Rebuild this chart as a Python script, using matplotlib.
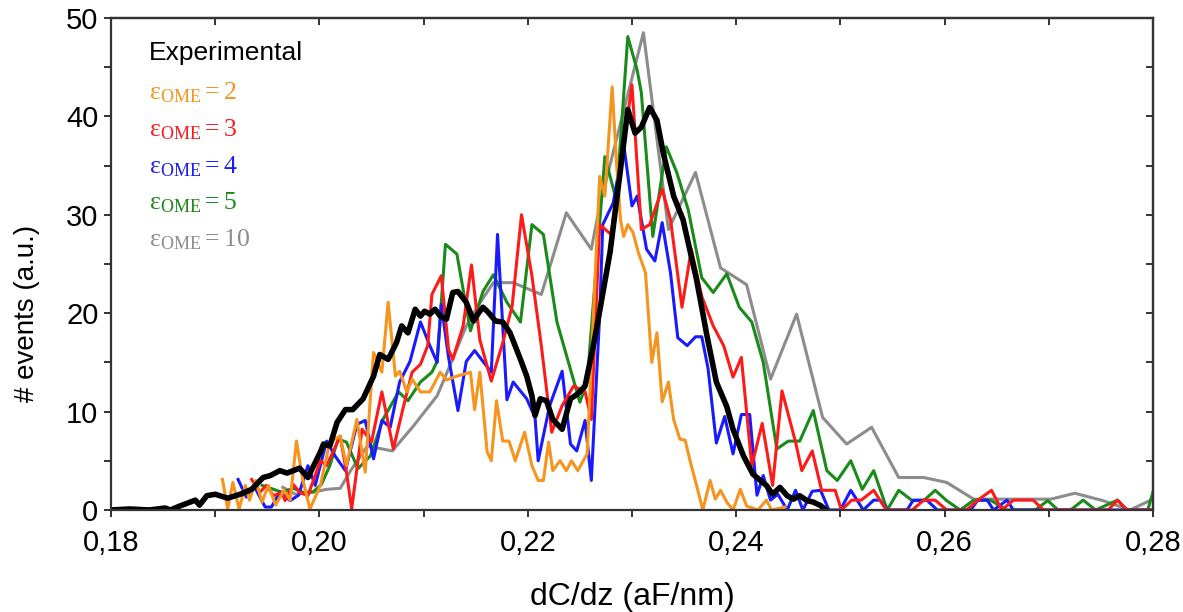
import matplotlib
matplotlib.use("Agg")
import matplotlib.pyplot as plt
from matplotlib.ticker import MultipleLocator, FuncFormatter

plt.rcParams['font.family'] = ['Liberation Sans', 'DejaVu Sans']
plt.rcParams['mathtext.fontset'] = 'custom'
plt.rcParams['mathtext.rm'] = 'Liberation Serif'
plt.rcParams['mathtext.it'] = 'Liberation Serif'

# Experimental histogram (black, thick)
exp_x = [0.1800, 0.1818, 0.1837, 0.1852, 0.1857, 0.1866, 0.1876, 0.1881, 0.1885, 0.1892,
         0.1900, 0.1912, 0.1924, 0.1935, 0.1946, 0.1953, 0.1962, 0.1969, 0.1981, 0.1989,
         0.2001, 0.2004, 0.2010, 0.2017, 0.2025, 0.2032, 0.2042, 0.2052, 0.2058, 0.2066,
         0.2074, 0.2079, 0.2085, 0.2092, 0.2097, 0.2101, 0.2106, 0.2111, 0.2116, 0.2122,
         0.2128, 0.2133, 0.2141, 0.2148, 0.2152, 0.2157, 0.2162, 0.2169, 0.2176, 0.2183,
         0.2193, 0.2199, 0.2204, 0.2207, 0.2212, 0.2218, 0.2224, 0.2233, 0.2241, 0.2248,
         0.2255, 0.2263, 0.2269, 0.2279, 0.2289, 0.2296, 0.2303, 0.2309, 0.2317, 0.2324,
         0.2330, 0.2340, 0.2349, 0.2362, 0.2372, 0.2381, 0.2391, 0.2397, 0.2407, 0.2416,
         0.2429, 0.2435, 0.2442, 0.2449, 0.2455, 0.2461, 0.2468, 0.2474, 0.2481, 0.2485]
exp_y = [0.0, 0.1, 0.0, 0.2, 0.0, 0.4, 0.8, 1.0, 0.5, 1.45,
         1.6, 1.2, 1.6, 2.1, 3.3, 3.5, 4.0, 3.75, 4.25, 3.3,
         5.9, 6.7, 6.5, 8.9, 10.2, 10.2, 11.3, 13.6, 15.8, 15.3,
         17.0, 18.7, 18.0, 20.4, 19.7, 20.2, 19.9, 20.4, 19.7, 19.4,
         22.1, 22.2, 21.1, 19.2, 19.9, 20.6, 20.1, 19.2, 19.1, 18.0,
         15.3, 13.6, 11.6, 9.6, 11.3, 11.1, 9.2, 8.2, 11.3, 11.8,
         12.6, 16.7, 20.2, 26.2, 34.6, 40.7, 38.3, 38.9, 40.9, 39.6,
         36.3, 31.9, 29.5, 23.4, 17.7, 13.0, 10.5, 8.2, 5.5, 3.65,
         2.5, 1.6, 2.3, 1.45, 1.1, 1.45, 0.95, 0.8, 0.45, 0.1]

# eps_OME = 2 (orange)
e2_x = [0.1907, 0.1912, 0.1917, 0.1923, 0.1929, 0.1933, 0.1939, 0.1945, 0.1951, 0.1958,
        0.1966, 0.1972, 0.1978, 0.1984, 0.1991, 0.2001, 0.2010, 0.2020, 0.2026, 0.2036,
        0.2044, 0.2052, 0.2060, 0.2066, 0.2073, 0.2077, 0.2084, 0.2089, 0.2097, 0.2106,
        0.2116, 0.2122, 0.2132, 0.2145, 0.2149, 0.2154, 0.2161, 0.2165, 0.2170, 0.2176,
        0.2182, 0.2188, 0.2197, 0.2204, 0.2210, 0.2215, 0.2220, 0.2224, 0.2231, 0.2237,
        0.2242, 0.2248, 0.2257, 0.2269, 0.2274, 0.2281, 0.2285, 0.2289, 0.2292, 0.2296,
        0.2301, 0.2306, 0.2313, 0.2319, 0.2324, 0.2329, 0.2335, 0.2340, 0.2346, 0.2351,
        0.2356, 0.2362, 0.2368, 0.2375, 0.2380, 0.2385, 0.2391, 0.2397, 0.2404, 0.2410,
        0.2421, 0.2429, 0.2434, 0.2447]
e2_y = [3.1, 0.1, 2.8, 0.1, 2.5, 1.0, 3.0, 0.8, 2.5, 0.5,
        2.0, 1.0, 7.0, 3.1, 0.1, 2.5, 6.9, 7.5, 4.5, 9.2,
        3.85, 16.0, 14.0, 21.1, 13.6, 14.1, 12.0, 13.3, 12.0, 12.0,
        14.0, 13.2, 13.6, 14.0, 10.2, 14.0, 5.9, 5.0, 11.1, 7.0,
        7.0, 5.0, 7.9, 4.5, 3.0, 3.0, 6.9, 4.0, 5.0, 4.0,
        5.0, 4.0, 5.7, 33.9, 31.9, 43.0, 35.6, 29.5, 27.8, 29.0,
        28.2, 26.2, 24.1, 15.0, 18.0, 11.0, 13.0, 9.2, 7.2, 7.1,
        4.9, 2.5, 0.0, 3.0, 1.1, 2.0, 0.8, 0.0, 2.1, 0.4,
        0.0, 1.0, 0.0, 0.3]

# eps_OME = 3 (red)
e3_x = [0.1935, 0.1943, 0.1949, 0.1956, 0.1964, 0.1967, 0.1975, 0.1981, 0.1989, 0.2001,
        0.2007, 0.2020, 0.2026, 0.2031, 0.2041, 0.2050, 0.2060, 0.2071, 0.2080, 0.2089,
        0.2097, 0.2104, 0.2108, 0.2117, 0.2124, 0.2128, 0.2138, 0.2146, 0.2154, 0.2165,
        0.2176, 0.2185, 0.2194, 0.2204, 0.2213, 0.2223, 0.2233, 0.2244, 0.2255, 0.2261,
        0.2269, 0.2280, 0.2300, 0.2309, 0.2317, 0.2329, 0.2337, 0.2348, 0.2357, 0.2367,
        0.2378, 0.2388, 0.2397, 0.2405, 0.2415, 0.2425, 0.2435, 0.2444, 0.2457, 0.2463,
        0.2473, 0.2482, 0.2495, 0.2501, 0.2511, 0.2520, 0.2532, 0.2544, 0.2569, 0.2580,
        0.2591, 0.2602, 0.2621, 0.2632, 0.2645, 0.2655, 0.2666, 0.2685, 0.2695, 0.2757,
        0.2766, 0.2775, 0.2800]
e3_y = [3.1, 1.8, 2.5, 1.45, 1.8, 0.95, 2.6, 1.8, 1.45, 5.0,
        4.5, 7.5, 3.85, 0.1, 8.2, 6.9, 12.0, 6.2, 10.2, 14.0,
        14.8, 16.7, 21.9, 23.8, 16.3, 15.3, 18.7, 24.9, 17.3, 13.1,
        17.0, 20.7, 30.0, 23.8, 16.7, 7.9, 10.6, 12.6, 12.0, 9.2,
        29.0, 28.0, 43.2, 28.5, 29.0, 32.6, 29.5, 20.6, 26.5, 21.7,
        18.7, 16.7, 13.5, 15.5, 4.5, 8.8, 2.5, 12.1, 6.9, 4.0,
        6.0, 2.0, 2.0, 0.0, 1.0, 1.0, 2.0, 0.0, 0.0, 1.0,
        1.0, 0.0, 0.0, 1.0, 2.0, 0.0, 1.0, 1.0, 0.0, 0.0,
        1.0, 0.0, 0.0]

# eps_OME = 4 (blue)
e4_x = [0.1922, 0.1930, 0.1938, 0.1948, 0.1954, 0.1962, 0.1972, 0.1980, 0.1989, 0.1996,
        0.2007, 0.2015, 0.2025, 0.2036, 0.2044, 0.2052, 0.2060, 0.2068, 0.2077, 0.2087,
        0.2097, 0.2106, 0.2113, 0.2117, 0.2124, 0.2133, 0.2141, 0.2149, 0.2157, 0.2165,
        0.2171, 0.2180, 0.2186, 0.2199, 0.2207, 0.2210, 0.2221, 0.2233, 0.2241, 0.2247,
        0.2255, 0.2261, 0.2269, 0.2272, 0.2282, 0.2292, 0.2300, 0.2305, 0.2314, 0.2322,
        0.2329, 0.2337, 0.2344, 0.2353, 0.2361, 0.2367, 0.2373, 0.2381, 0.2389, 0.2397,
        0.2405, 0.2413, 0.2420, 0.2426, 0.2433, 0.2440, 0.2449, 0.2457, 0.2464, 0.2473,
        0.2481, 0.2489, 0.2500, 0.2510, 0.2522, 0.2532, 0.2538, 0.2545, 0.2564, 0.2570,
        0.2583, 0.2593, 0.2625, 0.2632, 0.2641, 0.2647, 0.2660, 0.2666, 0.2800]
e4_y = [3.1, 1.3, 2.3, 0.3, 0.3, 1.8, 0.95, 1.5, 4.5, 2.5,
        7.0, 5.5, 4.0, 8.7, 9.1, 5.2, 9.1, 8.4, 13.0, 15.1,
        19.1, 16.7, 15.0, 20.9, 15.5, 10.1, 15.1, 16.2, 15.1, 14.0,
        28.0, 11.2, 13.0, 11.3, 9.4, 5.0, 10.6, 14.1, 6.7, 6.0,
        9.1, 3.0, 19.8, 29.0, 31.2, 37.2, 30.9, 31.9, 26.5, 25.3,
        29.2, 24.1, 17.5, 16.7, 17.6, 17.6, 14.4, 6.8, 9.5, 5.7,
        9.7, 9.7, 1.5, 3.5, 1.0, 1.6, 0.0, 2.0, 0.0, 1.9,
        2.0, 0.0, 0.0, 2.0, 0.0, 1.0, 1.0, 0.0, 0.0, 1.0,
        1.0, 0.0, 0.0, 1.0, 1.0, 0.0, 1.0, 0.0, 0.0]

# eps_OME = 5 (green)
e5_x = [0.1945, 0.1956, 0.1964, 0.1975, 0.1984, 0.1994, 0.2002, 0.2010, 0.2018, 0.2026,
        0.2037, 0.2049, 0.2061, 0.2076, 0.2085, 0.2097, 0.2108, 0.2113, 0.2121, 0.2132,
        0.2145, 0.2157, 0.2167, 0.2180, 0.2193, 0.2204, 0.2215, 0.2228, 0.2250, 0.2257,
        0.2274, 0.2285, 0.2296, 0.2305, 0.2309, 0.2320, 0.2333, 0.2343, 0.2354, 0.2367,
        0.2378, 0.2391, 0.2403, 0.2415, 0.2426, 0.2439, 0.2450, 0.2461, 0.2474, 0.2487,
        0.2497, 0.2510, 0.2521, 0.2532, 0.2545, 0.2556, 0.2569, 0.2580, 0.2591, 0.2602,
        0.2615, 0.2628, 0.2644, 0.2660, 0.2687, 0.2699, 0.2709, 0.2721, 0.2733, 0.2745,
        0.2766, 0.2775, 0.2795, 0.2800]
e5_y = [2.5, 2.1, 1.8, 2.2, 1.8, 1.85, 2.6, 4.5, 7.2, 6.9,
        4.2, 5.5, 9.2, 12.0, 11.1, 13.0, 14.0, 15.1, 27.0, 26.0,
        18.2, 22.2, 23.9, 21.1, 19.1, 29.0, 28.0, 19.1, 10.95, 13.0,
        35.9, 31.5, 48.1, 44.7, 42.4, 27.8, 36.9, 34.3, 30.5, 23.6,
        22.1, 24.0, 20.6, 19.1, 15.0, 6.2, 7.0, 7.0, 10.1, 4.0,
        3.0, 5.0, 2.1, 4.0, 0.0, 2.0, 0.95, 0.95, 2.0, 0.95,
        0.0, 1.0, 1.0, 0.0, 0.0, 0.95, 0.0, 0.0, 1.0, 0.0,
        1.0, 0.0, 0.0, 1.8]

# eps_OME = 10 (grey)
e10_x = [0.1965, 0.1977, 0.1994, 0.2007, 0.2020, 0.2030, 0.2046, 0.2070, 0.2090, 0.2113,
         0.2125, 0.2141, 0.2152, 0.2167, 0.2186, 0.2213, 0.2237, 0.2261, 0.2269, 0.2311,
         0.2335, 0.2361, 0.2385, 0.2410, 0.2433, 0.2458, 0.2483, 0.2506, 0.2530, 0.2556,
         0.2580, 0.2602, 0.2628, 0.2702, 0.2725, 0.2752, 0.2778, 0.2800]
e10_y = [2.3, 1.6, 1.8, 2.1, 2.2, 4.0, 6.5, 6.0, 8.5, 11.6,
         14.6, 18.7, 20.7, 23.1, 23.1, 21.9, 30.2, 26.5, 30.9, 48.5,
         28.5, 34.3, 24.6, 22.9, 13.3, 19.9, 9.4, 6.7, 8.4, 3.3,
         3.3, 2.8, 1.1, 1.1, 1.7, 0.95, 0.0, 1.1]

sim_labels = ['2', '3', '4', '5', '10']
sim_colors = ['#F7941D', '#FF1A1A', '#1A1AFF', '#1A8A1A', '#8C8C8C']

fig = plt.figure(figsize=(11.83, 6.12), dpi=100)
ax = fig.add_axes([0.0938, 0.1667, 0.8808, 0.804])

ax.plot(e10_x, e10_y, color=sim_colors[4], lw=2.2)
ax.plot(e5_x, e5_y, color=sim_colors[3], lw=2.2)
ax.plot(e4_x, e4_y, color=sim_colors[2], lw=2.2)
ax.plot(e3_x, e3_y, color=sim_colors[1], lw=2.2)
ax.plot(e2_x, e2_y, color=sim_colors[0], lw=2.2)
ax.plot(exp_x, exp_y, color='black', lw=4.0)

ax.set_xlim(0.18, 0.28)
ax.set_ylim(0, 50)

ax.xaxis.set_major_locator(MultipleLocator(0.02))
ax.xaxis.set_minor_locator(MultipleLocator(0.01))
ax.yaxis.set_major_locator(MultipleLocator(10))
ax.yaxis.set_minor_locator(MultipleLocator(5))
ax.xaxis.set_major_formatter(FuncFormatter(lambda v, p: ('%.2f' % v).replace('.', ',')))
ax.tick_params(which='both', direction='out', length=5, width=1.4, color='#333333',
               labelsize=21, top=False, right=False)
ax.tick_params(axis='x', pad=9)
ax.tick_params(axis='y', pad=4)

# inward ticks on top and right
top = ax.secondary_xaxis('top')
top.xaxis.set_major_locator(MultipleLocator(0.01))
top.tick_params(direction='in', length=5, width=1.4, color='#333333', labeltop=False)
right = ax.secondary_yaxis('right')
right.yaxis.set_major_locator(MultipleLocator(5))
right.tick_params(direction='in', length=5, width=1.4, color='#333333', labelright=False)

for a in (ax, top, right):
    for s in a.spines.values():
        s.set_linewidth(1.6)
        s.set_color('#333333')

ax.set_xlabel('dC/dz (aF/nm)', fontsize=23, labelpad=18)
ax.set_ylabel('# events (a.u.)', fontsize=20)
ax.yaxis.set_label_coords(-0.068, 0.40)

ax.text(0.0365, 0.929, 'Experimental', transform=ax.transAxes, fontsize=19,
        color='black', va='center', ha='left')
ys = [0.848, 0.772, 0.697, 0.624, 0.549]
for lab, col, yy in zip(sim_labels, sim_colors, ys):
    ax.text(0.0365, yy, r'$\mathrm{ε_{OME}} = \mathrm{' + lab + '}$', transform=ax.transAxes,
            fontsize=18.5, color=col, va='center', ha='left')

fig.savefig('out.png', dpi=100)
